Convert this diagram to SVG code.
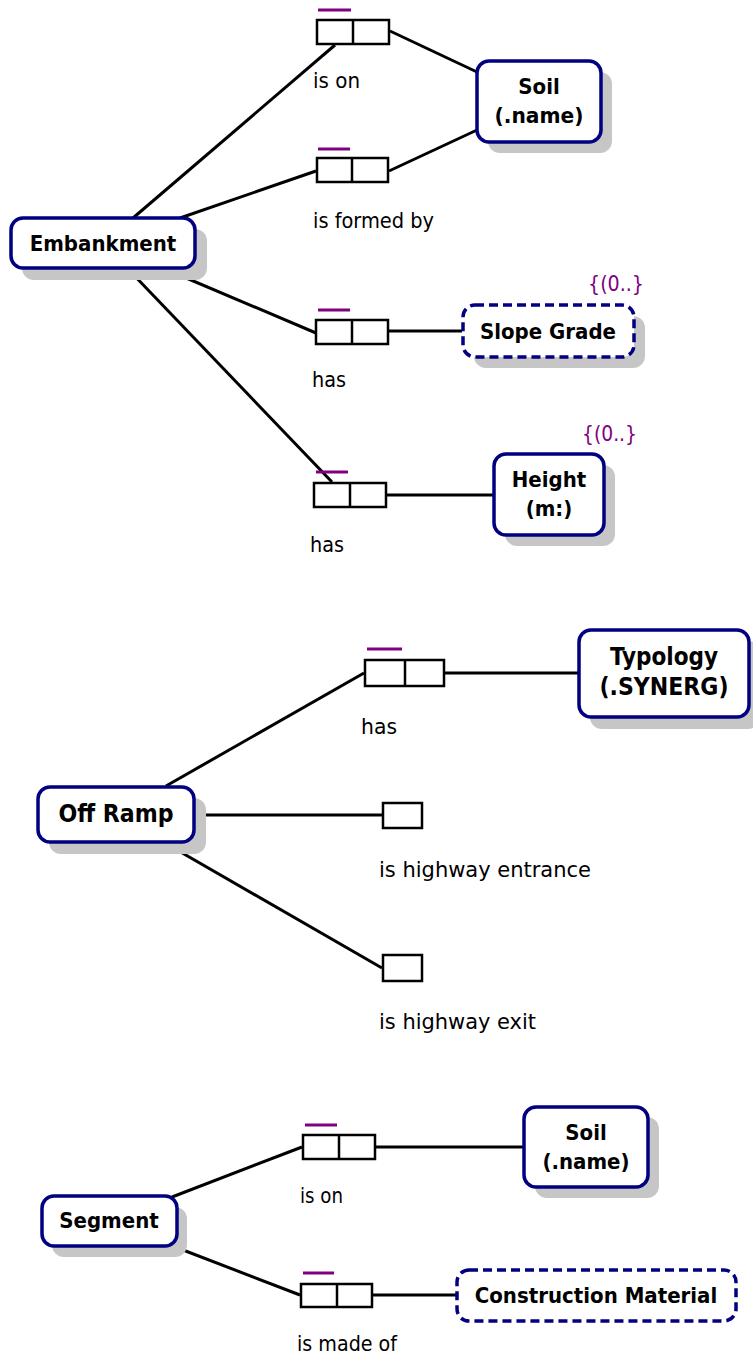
<svg xmlns="http://www.w3.org/2000/svg" width="753" height="1360" viewBox="0 0 753 1360">
<style>
.ent{fill:#fff;stroke:#000080;stroke-width:3.5}
.val{fill:#fff;stroke:#000080;stroke-width:3.5;stroke-dasharray:9 5}
.sh{fill:#c6c6c6}
.role{fill:#fff;stroke:#000;stroke-width:2.5}
.div{stroke:#000;stroke-width:2.5}
.uc{stroke:#800080;stroke-width:3}
#connectors line{stroke:#000;stroke-width:3}
.nt{font-family:"DejaVu Sans Condensed","DejaVu Sans",sans-serif;font-stretch:condensed;font-weight:bold;font-size:22px;text-anchor:middle;fill:#000}
.big{font-size:24px}
.lb{font-family:"DejaVu Sans Condensed","DejaVu Sans",sans-serif;font-stretch:condensed;font-size:22px;fill:#000}
.card{font-family:"DejaVu Sans Condensed","DejaVu Sans",sans-serif;font-stretch:condensed;font-size:22px;fill:#800080}
</style>
<rect width="753" height="1360" fill="#fff"/>
<g id="connectors">
<line x1="133" y1="218" x2="335" y2="45"/>
<line x1="180" y1="218" x2="316" y2="171"/>
<line x1="165" y1="269" x2="316" y2="333"/>
<line x1="128" y1="269" x2="332" y2="482"/>
<line x1="390" y1="31" x2="477" y2="72"/>
<line x1="389" y1="171" x2="477" y2="130"/>
<line x1="389" y1="331" x2="462" y2="331"/>
<line x1="387" y1="495" x2="493" y2="495"/>
<line x1="166" y1="786" x2="364" y2="673"/>
<line x1="445" y1="673" x2="578" y2="673"/>
<line x1="195" y1="815" x2="382" y2="815"/>
<line x1="165" y1="843" x2="382" y2="968"/>
<line x1="172" y1="1197" x2="302" y2="1147"/>
<line x1="376" y1="1147" x2="523" y2="1147"/>
<line x1="170" y1="1245" x2="300" y2="1295"/>
<line x1="373" y1="1295" x2="456" y2="1295"/>
</g>
<g id="role-is-on-1">
<line class="uc" x1="318" y1="10" x2="351" y2="10"/>
<rect class="role" x="317" y="20" width="72" height="24"/>
<line class="div" x1="353" y1="20" x2="353" y2="44"/>
<text class="lb" x="313" y="88" textLength="47" lengthAdjust="spacingAndGlyphs">is on</text>
</g>
<g id="role-is-formed-by">
<line class="uc" x1="318" y1="149" x2="350" y2="149"/>
<rect class="role" x="317" y="158" width="71" height="24"/>
<line class="div" x1="352" y1="158" x2="352" y2="182"/>
<text class="lb" x="313" y="228" textLength="121" lengthAdjust="spacingAndGlyphs">is formed by</text>
</g>
<g id="role-has-slope">
<line class="uc" x1="318" y1="310" x2="350" y2="310"/>
<rect class="role" x="316" y="320" width="72" height="24"/>
<line class="div" x1="352" y1="320" x2="352" y2="344"/>
<text class="lb" x="312" y="387" textLength="34" lengthAdjust="spacingAndGlyphs">has</text>
</g>
<g id="role-has-height">
<line class="uc" x1="316" y1="472" x2="348" y2="472"/>
<rect class="role" x="314" y="483" width="72" height="24"/>
<line class="div" x1="350" y1="483" x2="350" y2="507"/>
<text class="lb" x="310" y="552" textLength="34" lengthAdjust="spacingAndGlyphs">has</text>
</g>
<g id="role-has-typology">
<line class="uc" x1="367" y1="649" x2="402" y2="649"/>
<rect class="role" x="365" y="660" width="79" height="26"/>
<line class="div" x1="405" y1="660" x2="405" y2="686"/>
<text class="lb" x="361" y="734" textLength="36" lengthAdjust="spacingAndGlyphs">has</text>
</g>
<g id="role-is-highway-entrance">
<rect class="role" x="383" y="803" width="39" height="25"/>
<text class="lb" x="379" y="877" textLength="212" lengthAdjust="spacingAndGlyphs">is highway entrance</text>
</g>
<g id="role-is-highway-exit">
<rect class="role" x="383" y="955" width="39" height="26"/>
<text class="lb" x="379" y="1029" textLength="157" lengthAdjust="spacingAndGlyphs">is highway exit</text>
</g>
<g id="role-is-on-2">
<line class="uc" x1="305" y1="1125" x2="337" y2="1125"/>
<rect class="role" x="303" y="1135" width="72" height="24"/>
<line class="div" x1="339" y1="1135" x2="339" y2="1159"/>
<text class="lb" x="300" y="1203" textLength="43" lengthAdjust="spacingAndGlyphs">is on</text>
</g>
<g id="role-is-made-of">
<line class="uc" x1="303" y1="1273" x2="334" y2="1273"/>
<rect class="role" x="301" y="1284" width="71" height="23"/>
<line class="div" x1="337" y1="1284" x2="337" y2="1307"/>
<text class="lb" x="297" y="1351" textLength="100" lengthAdjust="spacingAndGlyphs">is made of</text>
</g>
<g id="embankment">
<rect class="sh" x="22" y="229" width="185" height="51" rx="12"/>
<rect class="ent" x="11" y="218" width="184" height="50" rx="12"/>
<text class="nt" x="103" y="251">Embankment</text>
</g>
<g id="soil-1">
<rect class="sh" x="488" y="72" width="124" height="81" rx="12"/>
<rect class="ent" x="477" y="61" width="124" height="81" rx="12"/>
<text class="nt" x="539" y="94">Soil</text>
<text class="nt" x="539" y="123" textLength="89" lengthAdjust="spacingAndGlyphs">(.name)</text>
</g>
<g id="slope-grade">
<rect class="sh" x="474" y="316" width="171" height="52" rx="12"/>
<rect class="val" x="463" y="305" width="171" height="52" rx="12"/>
<text class="nt" x="548" y="339">Slope Grade</text>
<text class="card" x="588" y="291" textLength="56" lengthAdjust="spacingAndGlyphs">{(0..}</text>
</g>
<g id="height">
<rect class="sh" x="505" y="465" width="110" height="81" rx="12"/>
<rect class="ent" x="494" y="454" width="110" height="81" rx="12"/>
<text class="nt" x="549" y="487">Height</text>
<text class="nt" x="549" y="516">(m:)</text>
<text class="card" x="582" y="441" textLength="55" lengthAdjust="spacingAndGlyphs">{(0..}</text>
</g>
<g id="off-ramp">
<rect class="sh" x="49" y="798" width="157" height="56" rx="12"/>
<rect class="ent" x="38" y="787" width="156" height="55" rx="12"/>
<text class="nt big" x="116" y="822" textLength="115" lengthAdjust="spacingAndGlyphs">Off Ramp</text>
</g>
<g id="typology">
<rect class="sh" x="590" y="641" width="170" height="88" rx="12"/>
<rect class="ent" x="579" y="630" width="170" height="87" rx="12"/>
<text class="nt big" x="664" y="665" textLength="108" lengthAdjust="spacingAndGlyphs">Typology</text>
<text class="nt big" x="664" y="695" textLength="129" lengthAdjust="spacingAndGlyphs">(.SYNERG)</text>
</g>
<g id="segment">
<rect class="sh" x="52" y="1207" width="135" height="50" rx="12"/>
<rect class="ent" x="42" y="1196" width="135" height="50" rx="12"/>
<text class="nt" x="109" y="1228">Segment</text>
</g>
<g id="soil-2">
<rect class="sh" x="535" y="1117" width="124" height="81" rx="12"/>
<rect class="ent" x="524" y="1107" width="124" height="80" rx="12"/>
<text class="nt" x="586" y="1140">Soil</text>
<text class="nt" x="586" y="1169">(.name)</text>
</g>
<g id="construction-material">
<rect class="val" x="457" y="1270" width="279" height="51" rx="12"/>
<text class="nt" x="596" y="1303">Construction Material</text>
</g>
</svg>
